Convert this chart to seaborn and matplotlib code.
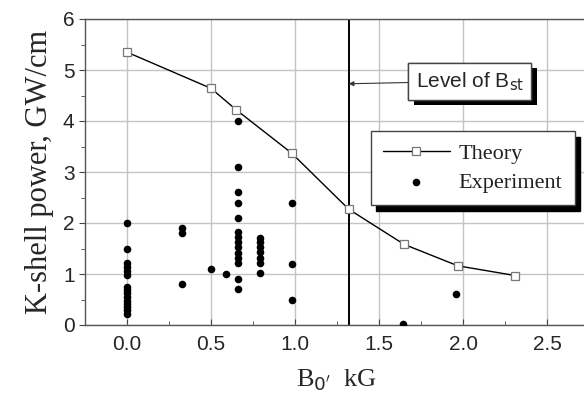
import matplotlib
matplotlib.use("Agg")
import matplotlib.pyplot as plt
import matplotlib.patheffects as pe
import seaborn as sns
import pandas as pd
from matplotlib.ticker import MultipleLocator

# Theory curve
theory_x = [0.0, 0.5, 0.65, 0.98, 1.32, 1.65, 1.97, 2.31]
theory_y = [5.35, 4.64, 4.22, 3.37, 2.27, 1.58, 1.16, 0.97]

# Experiment points
exp_x = ([0.0] * 15 + [0.33] * 3 + [0.5, 0.59] + [0.66] * 14 + [0.79] * 7
         + [0.98] * 3 + [1.64, 1.96])
exp_y = ([2.0, 1.5, 1.21, 1.14, 1.06, 0.98, 0.75, 0.68, 0.62, 0.55, 0.48, 0.42, 0.35, 0.29, 0.22]
         + [1.9, 1.8, 0.8]
         + [1.1, 1.0]
         + [4.0, 3.1, 2.6, 2.4, 2.1, 1.82, 1.72, 1.62, 1.52, 1.41, 1.31, 1.21, 0.91, 0.71]
         + [1.71, 1.62, 1.52, 1.43, 1.32, 1.21, 1.01]
         + [2.4, 1.2, 0.5]
         + [0.02, 0.6])

b_st = 1.32
xticks = [0.0, 0.5, 1.0, 1.5, 2.0, 2.5]
yticks = [0, 1, 2, 3, 4, 5, 6]

sns.set_style("ticks")
plt.rcParams['font.family'] = ['Liberation Sans', 'DejaVu Sans']

fig = plt.figure(figsize=(5.84, 4.0), dpi=100)
ax = fig.add_axes([85 / 584, 75 / 400, 504 / 584, 306 / 400])

theory = pd.DataFrame({"x": theory_x, "y": theory_y})
exp = pd.DataFrame({"x": exp_x, "y": exp_y})

ax.grid(True, color="#c4c4c4", lw=1.0, zorder=0)
ax.axvline(b_st, color="black", lw=1.4, zorder=2)

sns.lineplot(data=theory, x="x", y="y", ax=ax, color="black", lw=1.0,
             marker="s", markersize=5.8, markerfacecolor="white",
             markeredgecolor="#777777", markeredgewidth=0.9, label="Theory",
             zorder=3)
sns.scatterplot(data=exp, x="x", y="y", ax=ax, color="black", s=30,
                edgecolor="black", linewidth=0, label="Experiment", zorder=4)

ax.set_xlim(-0.25, 2.75)
ax.set_ylim(0, 6)
ax.set_xticks(xticks)
ax.set_xticklabels([f"{v:.1f}" for v in xticks])
ax.set_yticks(yticks)
ax.xaxis.set_minor_locator(MultipleLocator(0.25))
ax.yaxis.set_minor_locator(MultipleLocator(0.5))
ax.tick_params(axis="both", which="major", labelsize=15, length=4, color="#444444")
ax.tick_params(axis="x", which="both", direction="in", pad=7)
ax.tick_params(axis="both", which="minor", length=3, color="#444444")
for s in ax.spines.values():
    s.set_color("#555555")
    s.set_linewidth(1.0)

ax.set_xlabel(r"B$_{0'}$  kG", family=["Liberation Serif"], fontsize=19, labelpad=10)
ax.set_ylabel("K-shell power, GW/cm", family=["Liberation Serif"], fontsize=22, labelpad=6)

leg = ax.legend(loc="upper left", bbox_to_anchor=(0.567, 0.634),
                prop={"family": "Liberation Serif", "size": 16},
                frameon=True, fancybox=False, edgecolor="#444444",
                shadow={"color": "black", "alpha": 1.0, "ox": 4, "oy": -4},
                framealpha=1, borderpad=0.55, handlelength=3.0,
                labelspacing=0.4, borderaxespad=0, handletextpad=0.4)
leg.get_frame().set_linewidth(1.0)
for t in leg.get_texts():
    t.set_color("#222222")

ann = ax.annotate(r"Level of B$_{\rm st}$", xy=(b_st, 4.73), xytext=(2.04, 4.78),
                  ha="center", va="center", fontsize=15,
                  bbox=dict(boxstyle="square,pad=0.35", fc="white", ec="#444444", lw=1.0),
                  arrowprops=dict(arrowstyle="-|>", color="#333333", lw=0.8,
                                  mutation_scale=7, shrinkA=0, shrinkB=0),
                  zorder=6)
ann.get_bbox_patch().set_path_effects([
    pe.withSimplePatchShadow(offset=(4, -4), shadow_rgbFace="black", alpha=1.0),
    pe.Normal()])

fig.savefig("out.png", dpi=100)
